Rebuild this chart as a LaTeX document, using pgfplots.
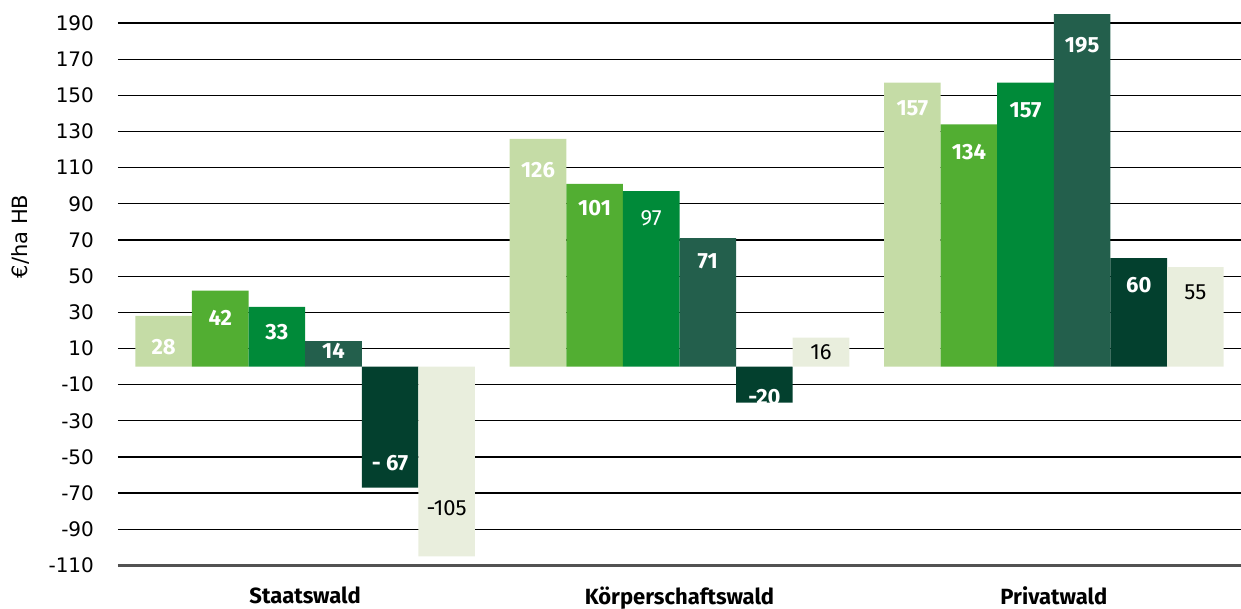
\documentclass[border=0pt]{standalone}
\usepackage{fontspec}
\setmainfont{Fira Sans}
\newfontfamily\tickfont{DejaVu Sans}
\usepackage{pgfplots}
\pgfplotsset{compat=1.18}
\definecolor{cA}{HTML}{C5DCA6}
\definecolor{cB}{HTML}{52AE32}
\definecolor{cC}{HTML}{008A39}
\definecolor{cD}{HTML}{235F4C}
\definecolor{cE}{HTML}{03402E}
\definecolor{cF}{HTML}{E9EEDD}
\begin{document}
\begin{tikzpicture}
\useasboundingbox (-59pt,-21.5pt) rectangle (561.5pt,282.7pt);
\begin{axis}[
  at={(0,0)}, anchor=south west,
  scale only axis, width=561.5pt, height=280.2pt,
  xmin=-0.5, xmax=2.5, ymin=-110, ymax=200,
  axis x line*=bottom, axis y line*=left,
  x axis line style={draw=black!68, line width=1.2pt, -},
  y axis line style={draw=none},
  ymajorgrids, grid style={black, line width=0.65pt},
  major tick length=0pt,
  ytick={-110,-90,-70,-50,-30,-10,10,30,50,70,90,110,130,150,170,190},
  yticklabels={-110,-90,-70,-50,-30,-10,10,30,50,70,90,110,130,150,170,190},
  yticklabel style={font=\tickfont\fontsize{10}{11}\selectfont, xshift=-8.5pt},
  xtick={0,1,2},
  xticklabels={Staatswald,Körperschaftswald,Privatwald},
  xticklabel style={font=\bfseries\fontsize{11}{13}\selectfont, yshift=-7pt},
  ylabel={€/ha HB},
  ylabel style={font=\tickfont\fontsize{10.5}{12}\selectfont, at={(axis description cs:-0.087,0.587)}, anchor=center},
  clip=false,
]
\addplot[ybar, bar width=0.1512, bar shift=0pt, fill=cA, draw=none] coordinates {(-0.378,28) (0.622,126) (1.622,157)};
\addplot[ybar, bar width=0.1512, bar shift=0pt, fill=cB, draw=none] coordinates {(-0.2268,42) (0.7732,101) (1.7732,134)};
\addplot[ybar, bar width=0.1512, bar shift=0pt, fill=cC, draw=none] coordinates {(-0.0756,33) (0.9244,97) (1.9244,157)};
\addplot[ybar, bar width=0.1512, bar shift=0pt, fill=cD, draw=none] coordinates {(0.0756,14) (1.0756,71) (2.0756,195)};
\addplot[ybar, bar width=0.1512, bar shift=0pt, fill=cE, draw=none] coordinates {(0.2268,-67) (1.2268,-20) (2.2268,60)};
\addplot[ybar, bar width=0.1512, bar shift=0pt, fill=cF, draw=none] coordinates {(0.378,-105) (1.378,16) (2.378,55)};
% bold white labels
\addplot[draw=none, mark=none, nodes near coords, point meta=explicit symbolic,
  nodes near coords align={anchor=center},
  every node near coord/.append style={font=\bfseries\fontsize{11}{13}\selectfont, text=white, inner sep=0pt}]
  table[x=x, y=y, meta=l, col sep=comma] {
x,y,l
-0.378,10.7,28
-0.2268,26.7,42
-0.0756,19.1,33
0.0756,8.5,14
0.2268,-53.3,- 67
0.622,108.6,126
0.7732,87.4,101
1.2268,-16.8,-20
1.0756,58.3,71
1.622,142.8,157
1.7732,118.8,134
1.9244,141.8,157
2.0756,177.8,195
2.2268,45,60
};
% regular white labels
\addplot[draw=none, mark=none, nodes near coords, point meta=explicit symbolic,
  nodes near coords align={anchor=center},
  every node near coord/.append style={font=\fontsize{11}{13}\selectfont, text=white, inner sep=0pt}]
  table[x=x, y=y, meta=l, col sep=comma] {
x,y,l
0.9244,81.9,97
};
% regular black labels
\addplot[draw=none, mark=none, nodes near coords, point meta=explicit symbolic,
  nodes near coords align={anchor=center},
  every node near coord/.append style={font=\fontsize{11}{13}\selectfont, text=black, inner sep=0pt}]
  table[x=x, y=y, meta=l, col sep=comma] {
x,y,l
0.378,-78.6,-105
1.378,8.1,16
2.378,41.3,55
};
\end{axis}
\end{tikzpicture}
\end{document}
